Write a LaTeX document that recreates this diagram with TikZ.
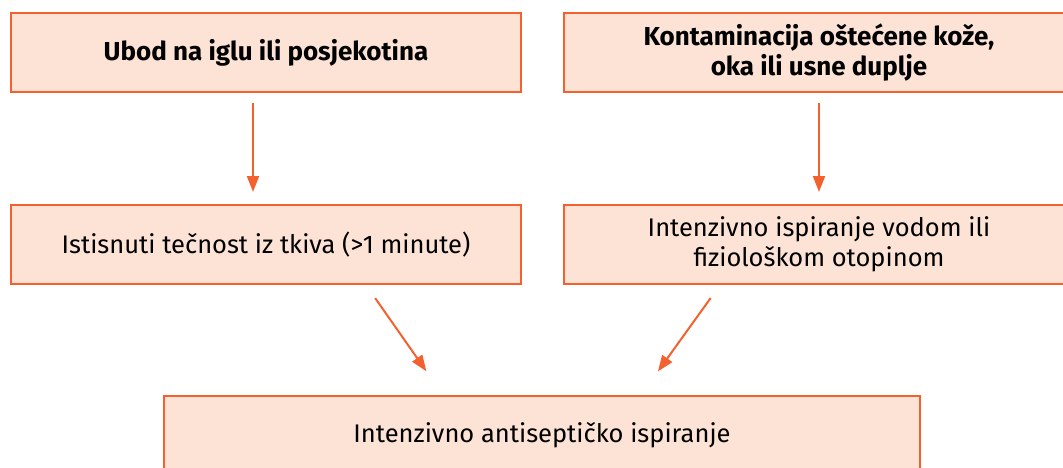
\documentclass[tikz,border=0pt]{standalone}
\usepackage{fontspec}
\setmainfont{Fira Sans}
\usetikzlibrary{arrows.meta}

\definecolor{korange}{HTML}{F2612E}
\definecolor{kpeach}{HTML}{FCE3D5}

\tikzset{
  kbox/.style={draw=korange, fill=kpeach, line width=2pt, minimum width=510pt,
    minimum height=79pt, align=center, inner sep=0pt, text=black,
    font=\fontsize{25.5}{30}\selectfont},
  karrow/.style={draw=korange, line width=2pt, -{Triangle[length=16pt,width=12pt]}}
}

\begin{document}
\begin{tikzpicture}[x=1pt,y=-1pt]
        \useasboundingbox (0,0) rectangle (1063,468);
        \clip (0,0) rectangle (1063,468); % right and bottom boxes run off the page
        \node[kbox,font=\fontsize{26}{30}\selectfont\bfseries] (ubod) at (266,53)
        {Ubod na iglu ili posjekotina}; % first case
        \node[kbox,font=\fontsize{26}{30}\selectfont\bfseries] (kontam) at (819,53)
        {Kontaminacija oštećene kože,\\oka ili usne duplje}; % second case
        \node[kbox] (istisni) at (266,244.5)
        {Istisnuti tečnost iz tkiva (>1 minute)}; % step for case 1
        \node[kbox] (ispiraj) at (819,244.5)
        {Intenzivno ispiranje vodom ili\\fiziološkom otopinom}; % step for case 2
        \node[kbox,minimum width=756pt] (antisep) at (542,435.5)
        {Intenzivno antiseptičko ispiranje}; % common step
        \draw[karrow,shorten <=10pt,shorten >=12pt] ([xshift=-13pt]ubod.south) --
        ([xshift=-13pt]istisni.north); % arrows down
        \draw[karrow,shorten <=10pt,shorten >=12pt] (kontam.south) -- (ispiraj.north);
        \draw[karrow,shorten <=16pt,shorten >=29pt] ([xshift=100pt]istisni.south) --
        ([xshift=-99pt]antisep.north); % arrows to the common step
        \draw[karrow,shorten <=16pt,shorten >=29pt] ([xshift=-99pt]ispiraj.south) --
        ([xshift=99pt]antisep.north);
    \end{tikzpicture}
\end{document}
